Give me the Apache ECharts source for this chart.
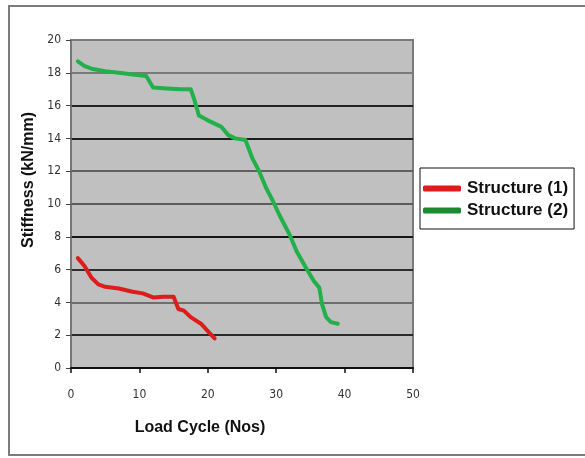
<!DOCTYPE html>
<html>
<head>
<meta charset="utf-8">
<script src="https://cdn.jsdelivr.net/npm/echarts@6/dist/echarts.min.js"></script>
<style>
  html, body { margin: 0; padding: 0; background: #fff; }
  #chart { width: 585px; height: 458px; }
</style>
</head>
<body>
<div id="chart"></div>
<script>
// Stiffness degradation of two structures over load cycles
const seriesNames = ['Structure (1)', 'Structure (2)'];

const structure1Cycles = [1, 2, 3, 4, 5, 7, 9, 10.5, 12, 13.5, 15, 15.7, 16.5, 17.5, 19, 20, 21];
const structure1Stiffness = [6.7, 6.2, 5.5, 5.1, 4.95, 4.85, 4.65, 4.55, 4.3, 4.35, 4.35, 3.6, 3.5, 3.1, 2.7, 2.25, 1.8];

const structure2Cycles = [1, 2, 3, 5, 7, 9, 10, 11, 12, 14, 16, 17.5, 18, 18.7, 20, 22, 23, 24, 25.5, 26.5, 27.5, 28.5, 29.5, 30.5, 32, 33, 34.5, 35.5, 36.3, 36.7, 37.3, 38, 39];
const structure2Stiffness = [18.7, 18.4, 18.25, 18.1, 18.0, 17.9, 17.85, 17.8, 17.1, 17.05, 17.0, 17.0, 16.4, 15.4, 15.1, 14.7, 14.2, 14.0, 13.9, 12.8, 12.0, 11.0, 10.2, 9.3, 8.1, 7.1, 6.0, 5.3, 4.9, 3.9, 3.1, 2.8, 2.7];

const xTicks = [0, 10, 20, 30, 40, 50];
const yTicks = [0, 2, 4, 6, 8, 10, 12, 14, 16, 18, 20];

const xTitle = 'Load Cycle (Nos)';
const yTitle = 'Stiffness (kN/mm)';

const pair = (xs, ys) => xs.map((x, i) => [x, ys[i]]);

const chart = echarts.init(document.getElementById('chart'), null, { renderer: 'canvas' });

const tickFont = {
  color: '#333',
  fontSize: 12,
  fontFamily: '"Liberation Sans Narrow", "DejaVu Sans Condensed", Arial, sans-serif'
};

chart.setOption({
  animation: false,
  backgroundColor: '#fff',
  grid: {
    left: 71, right: 172, top: 40, bottom: 90,
    show: true,
    backgroundColor: '#c0c0c0',
    borderColor: '#7a7a7a',
    borderWidth: 2
  },
  xAxis: {
    type: 'value',
    min: xTicks[0], max: xTicks[xTicks.length - 1], interval: 10,
    axisLine: { show: true, onZero: false, lineStyle: { color: '#111', width: 2 } },
    axisTick: { show: true, inside: false, length: 5, lineStyle: { color: '#111', width: 1.5 } },
    axisLabel: Object.assign({ margin: 21 }, tickFont),
    splitLine: { show: false }
  },
  yAxis: {
    type: 'value',
    min: yTicks[0], max: yTicks[yTicks.length - 1], interval: 2,
    axisLine: { show: true, lineStyle: { color: '#777', width: 1.5 } },
    axisTick: { show: true, inside: false, length: 5, lineStyle: { color: '#444', width: 1 } },
    axisLabel: Object.assign({ margin: 10 }, tickFont),
    splitLine: {
      show: true,
      lineStyle: {
        width: 2,
        color: ['#111', '#2a2a2a', '#6e6e6e', '#2e2e2e', '#151515', '#5c5c5c', '#606060', '#1e1e1e', '#222', '#7a7a7a', '#7a7a7a']
      }
    }
  },
  legend: {
    data: seriesNames,
    orient: 'vertical',
    left: 420, top: 168,
    width: 156,
    padding: [12, 6, 10, 3],
    itemGap: 5,
    itemWidth: 38, itemHeight: 6,
    icon: 'roundRect',
    backgroundColor: '#fff',
    borderColor: '#111',
    borderWidth: 1,
    textStyle: { color: '#111', fontSize: 17, fontWeight: 'bold', fontFamily: 'Arial, "Liberation Sans", sans-serif', padding: [0, 0, 0, 1] }
  },
  graphic: [
    {
      type: 'rect', silent: true, z: -1,
      shape: { x: 9, y: 6, width: 590, height: 449 },
      style: { fill: 'none', stroke: '#7c7c7c', lineWidth: 2 }
    },
    {
      type: 'text', silent: true,
      x: 200, y: 428,
      style: {
        text: xTitle, align: 'center', verticalAlign: 'middle',
        fill: '#111', font: 'bold 16px Arial, "Liberation Sans", sans-serif'
      }
    },
    {
      type: 'text', silent: true,
      x: 29, y: 180, rotation: Math.PI / 2,
      style: {
        text: yTitle, align: 'center', verticalAlign: 'middle',
        fill: '#111', font: 'bold 16px Arial, "Liberation Sans", sans-serif'
      }
    }
  ],
  series: [
    {
      name: seriesNames[0],
      type: 'line',
      data: pair(structure1Cycles, structure1Stiffness),
      showSymbol: false,
      symbol: 'none',
      smooth: false,
      color: '#dd1c1c',
      lineStyle: { color: '#dd1c1c', width: 4, cap: 'round', join: 'round' }
    },
    {
      name: seriesNames[1],
      type: 'line',
      data: pair(structure2Cycles, structure2Stiffness),
      showSymbol: false,
      symbol: 'none',
      smooth: false,
      color: '#1a8a2e',
      lineStyle: { color: '#22b04b', width: 4, cap: 'round', join: 'round' }
    }
  ]
});
</script>
</body>
</html>
